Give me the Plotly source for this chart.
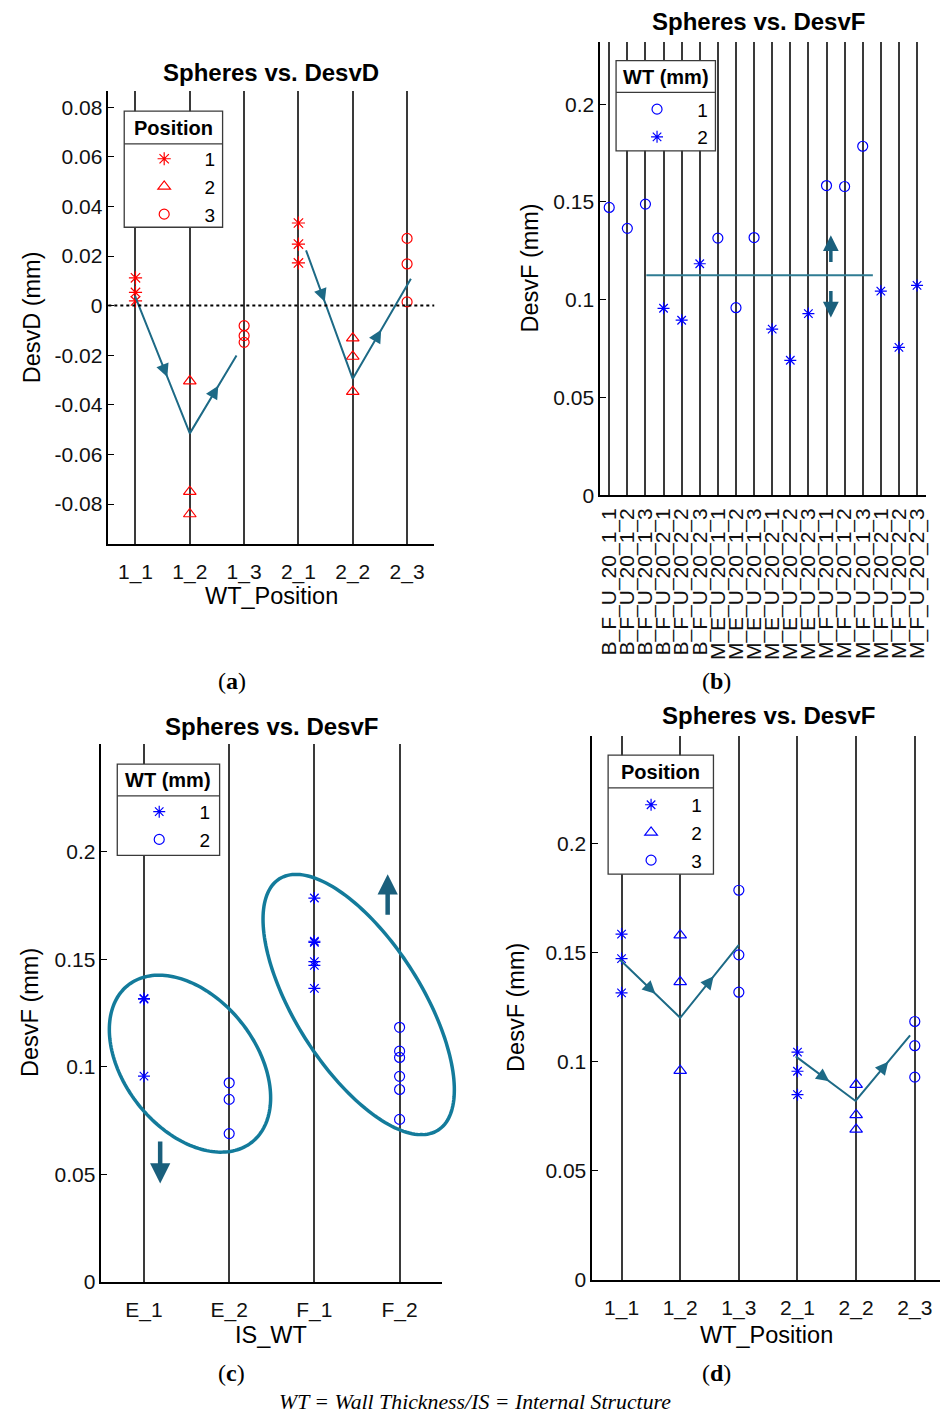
import numpy as np
import plotly.graph_objects as go

W, H = 943, 1425
FONT = "Liberation Sans, Arial, sans-serif"
SERIF = "Liberation Serif, Times New Roman, serif"
GRID = "#3a3a3a"
TREND = "#1d6a86"
ELLC = "#137b9b"
ARROWC = "#1a5f7c"

# ---------------- data ----------------
# (a) Spheres vs. DesvD
cats_a = ["1_1", "1_2", "1_3", "2_1", "2_2", "2_3"]
a_pos1_cat = ["1_1", "1_1", "1_1", "2_1", "2_1", "2_1"]
a_pos1_val = [0.0112, 0.0053, 0.0019, 0.0333, 0.0248, 0.0172]
a_pos2_cat = ["1_2", "1_2", "1_2", "2_2", "2_2", "2_2"]
a_pos2_val = [-0.0304, -0.0750, -0.0840, -0.0131, -0.0205, -0.0347]
a_pos3_cat = ["1_3", "1_3", "1_3", "2_3", "2_3", "2_3"]
a_pos3_val = [-0.0081, -0.0121, -0.0148, 0.0271, 0.0168, 0.0015]
a_trend1_x = [0.99, 2.0, 2.86]
a_trend1_y = [0.0039, -0.0515, -0.0201]
a_trend2_x = [4.14, 5.0, 6.07]
a_trend2_y = [0.0223, -0.0295, 0.0108]
a_yticks = [-0.08, -0.06, -0.04, -0.02, 0, 0.02, 0.04, 0.06, 0.08]
a_yticktext = ["-0.08", "-0.06", "-0.04", "-0.02", "0", "0.02", "0.04", "0.06", "0.08"]

# (b) Spheres vs. DesvF by specimen
cats_b = ["B_F_U_20_1_1", "B_F_U_20_1_2", "B_F_U_20_1_3",
          "B_F_U_20_2_1", "B_F_U_20_2_2", "B_F_U_20_2_3",
          "M_E_U_20_1_1", "M_E_U_20_1_2", "M_E_U_20_1_3",
          "M_E_U_20_2_1", "M_E_U_20_2_2", "M_E_U_20_2_3",
          "M_F_U_20_1_1", "M_F_U_20_1_2", "M_F_U_20_1_3",
          "M_F_U_20_2_1", "M_F_U_20_2_2", "M_F_U_20_2_3"]
b_wt = [1, 1, 1, 2, 2, 2, 1, 1, 1, 2, 2, 2, 1, 1, 1, 2, 2, 2]
b_val = [0.1472, 0.1365, 0.1489, 0.0956, 0.0895, 0.1184,
         0.1315, 0.0959, 0.1318, 0.0849, 0.0690, 0.0929,
         0.1584, 0.1579, 0.1785, 0.1044, 0.0756, 0.1073]
b_hline_x = [3.05, 15.56]
b_hline_y = 0.1125
b_arrow_x = 13.24
b_arrow_up = [0.1185, 0.1330]
b_arrow_down = [0.1052, 0.0909]
bcd_yticks = [0, 0.05, 0.1, 0.15, 0.2]
bcd_yticktext = ["0", "0.05", "0.1", "0.15", "0.2"]

# (c) Spheres vs. DesvF by IS_WT
cats_c = ["E_1", "E_2", "F_1", "F_2"]
c_wt1_cat = ["E_1", "E_1", "E_1", "F_1", "F_1", "F_1", "F_1", "F_1", "F_1"]
c_wt1_val = [0.1315, 0.0957, 0.1318, 0.1472, 0.1365, 0.1489, 0.1584, 0.1579, 0.1785]
c_wt2_cat = ["E_2", "E_2", "E_2", "F_2", "F_2", "F_2", "F_2", "F_2", "F_2"]
c_wt2_val = [0.0926, 0.0849, 0.0690, 0.0956, 0.0895, 0.1184, 0.1044, 0.0756, 0.1073]
# ellipses: centre (x, y in data), semi-axes (px), tilt (deg, clockwise on screen)
ell1_center = (1.54, 0.1015)
ell1_axes = (100.7, 66.3)
ell1_angle = 51.85
ell2_center = (3.52, 0.129)
ell2_axes = (149.7, 63.7)
ell2_angle = 57.8
c_arrow_up = (3.86, 0.170, 0.1895)
c_arrow_down = (1.19, 0.0660, 0.0458)

# (d) Spheres vs. DesvF by WT_Position
cats_d = ["1_1", "1_2", "1_3", "2_1", "2_2", "2_3"]
d_pos1_cat = ["1_1", "1_1", "1_1", "2_1", "2_1", "2_1"]
d_pos1_val = [0.1472, 0.1315, 0.1584, 0.0956, 0.0849, 0.1044]
d_pos2_cat = ["1_2", "1_2", "1_2", "2_2", "2_2", "2_2"]
d_pos2_val = [0.1365, 0.0959, 0.1579, 0.0895, 0.0690, 0.0756]
d_pos3_cat = ["1_3", "1_3", "1_3", "2_3", "2_3", "2_3"]
d_pos3_val = [0.1489, 0.1318, 0.1785, 0.1184, 0.0929, 0.1073]
d_trend1_x = [0.97, 2.0, 3.0]
d_trend1_y = [0.1468, 0.1201, 0.1535]
d_trend2_x = [3.97, 4.99, 5.92]
d_trend2_y = [0.1024, 0.0820, 0.1120]

# ---------------- layout geometry (pixels) ----------------
dom = {
    "a": dict(x=(106, 434), y=(92, 548), xr=(0.5, 6.5), yr=(-0.096, 0.0864)),
    "b": dict(x=(601, 929), y=(42, 499), xr=(0.5, 18.5), yr=(0, 0.232)),
    "c": dict(x=(99, 442), y=(750, 1292), xr=(0.5, 4.5), yr=(0, 0.25)),
    "d": dict(x=(593, 943), y=(742, 1290), xr=(0.5, 6.43), yr=(0, 0.249)),
}


def pxx(p):
    return p / W


def pxy(p):
    return 1 - p / H


def idx(cats, labels):
    return [cats.index(l) + 1 for l in labels]


fig = go.Figure()

RED = "#ff0000"
BLUE = "#0000ff"


def mk(symbol, color, size=10):
    return dict(symbol=symbol, size=size, color=color, line=dict(color=color, width=1.2))


NB = "\u00a0"

# (a)
fig.add_trace(go.Scatter(x=idx(cats_a, a_pos1_cat), y=a_pos1_val, mode="markers", name=NB + "1",
                         marker=mk("asterisk-open", RED, 11), xaxis="x", yaxis="y", legend="legend"))
fig.add_trace(go.Scatter(x=idx(cats_a, a_pos2_cat), y=a_pos2_val, mode="markers", name=NB + "2",
                         marker=mk("triangle-up-open", RED, 11), xaxis="x", yaxis="y", legend="legend"))
fig.add_trace(go.Scatter(x=idx(cats_a, a_pos3_cat), y=a_pos3_val, mode="markers", name=NB + "3",
                         marker=mk("circle-open", RED, 10), xaxis="x", yaxis="y", legend="legend"))
for tx, ty in [(a_trend1_x, a_trend1_y), (a_trend2_x, a_trend2_y)]:
    fig.add_trace(go.Scatter(x=tx, y=ty, mode="lines", line=dict(color=TREND, width=2),
                             showlegend=False, xaxis="x", yaxis="y", hoverinfo="skip"))

# (b)
b_x = list(range(1, len(cats_b) + 1))
fig.add_trace(go.Scatter(x=[x for x, w in zip(b_x, b_wt) if w == 1],
                         y=[v for v, w in zip(b_val, b_wt) if w == 1],
                         mode="markers", name=NB + "1", marker=mk("circle-open", BLUE, 10),
                         xaxis="x2", yaxis="y2", legend="legend2"))
fig.add_trace(go.Scatter(x=[x for x, w in zip(b_x, b_wt) if w == 2],
                         y=[v for v, w in zip(b_val, b_wt) if w == 2],
                         mode="markers", name=NB + "2", marker=mk("asterisk-open", BLUE, 10),
                         xaxis="x2", yaxis="y2", legend="legend2"))
fig.add_trace(go.Scatter(x=b_hline_x, y=[b_hline_y, b_hline_y], mode="lines",
                         line=dict(color="#2f7c93", width=2), showlegend=False,
                         xaxis="x2", yaxis="y2", hoverinfo="skip"))

# (c)
fig.add_trace(go.Scatter(x=idx(cats_c, c_wt1_cat), y=c_wt1_val, mode="markers", name=NB + "1",
                         marker=mk("asterisk-open", BLUE, 10), xaxis="x3", yaxis="y3", legend="legend3"))
fig.add_trace(go.Scatter(x=idx(cats_c, c_wt2_cat), y=c_wt2_val, mode="markers", name=NB + "2",
                         marker=mk("circle-open", BLUE, 10), xaxis="x3", yaxis="y3", legend="legend3"))

# (d)
fig.add_trace(go.Scatter(x=idx(cats_d, d_pos1_cat), y=d_pos1_val, mode="markers", name=NB + "1",
                         marker=mk("asterisk-open", BLUE, 10), xaxis="x4", yaxis="y4", legend="legend4"))
fig.add_trace(go.Scatter(x=idx(cats_d, d_pos2_cat), y=d_pos2_val, mode="markers", name=NB + "2",
                         marker=mk("triangle-up-open", BLUE, 11), xaxis="x4", yaxis="y4", legend="legend4"))
fig.add_trace(go.Scatter(x=idx(cats_d, d_pos3_cat), y=d_pos3_val, mode="markers", name=NB + "3",
                         marker=mk("circle-open", BLUE, 10), xaxis="x4", yaxis="y4", legend="legend4"))
for tx, ty in [(d_trend1_x, d_trend1_y), (d_trend2_x, d_trend2_y)]:
    fig.add_trace(go.Scatter(x=tx, y=ty, mode="lines", line=dict(color=TREND, width=2),
                             showlegend=False, xaxis="x4", yaxis="y4", hoverinfo="skip"))

# ---------------- axes ----------------
def xaxis_cfg(key, cats, tickangle=0, fsize=21, standoff=8):
    d = dom[key]
    return dict(domain=[pxx(d["x"][0]), pxx(d["x"][1])], range=list(d["xr"]),
                tickmode="array", tickvals=list(range(1, len(cats) + 1)), ticktext=cats,
                tickangle=tickangle, showgrid=True, gridcolor=GRID, gridwidth=2,
                showline=True, linecolor="black", linewidth=1.5, ticks="",
                ticklabelstandoff=standoff,
                zeroline=False, tickfont=dict(family=FONT, size=fsize, color="#111"),
                fixedrange=True)


def yaxis_cfg(key, xname, tv, tt):
    d = dom[key]
    return dict(domain=[pxy(d["y"][1]), pxy(d["y"][0])], range=list(d["yr"]),
                anchor=xname, tickmode="array", tickvals=tv, ticktext=tt,
                showgrid=False, showline=True, linecolor="black", linewidth=1.5,
                ticks="inside", ticklen=6, tickwidth=1.3, tickcolor="black",
                zeroline=False, tickfont=dict(family=FONT, size=21, color="#111"),
                fixedrange=True)


layout = dict(
    width=W, height=H, margin=dict(l=0, r=0, t=0, b=0),
    paper_bgcolor="white", plot_bgcolor="white",
    font=dict(family=FONT, color="black"),
    xaxis=dict(xaxis_cfg("a", cats_a), anchor="y"),
    yaxis=yaxis_cfg("a", "x", a_yticks, a_yticktext),
    xaxis2=dict(xaxis_cfg("b", cats_b, tickangle=-90, fsize=21, standoff=3), anchor="y2"),
    yaxis2=yaxis_cfg("b", "x2", bcd_yticks, bcd_yticktext),
    xaxis3=dict(xaxis_cfg("c", cats_c), anchor="y3"),
    yaxis3=yaxis_cfg("c", "x3", bcd_yticks, bcd_yticktext),
    xaxis4=dict(xaxis_cfg("d", cats_d), anchor="y4"),
    yaxis4=yaxis_cfg("d", "x4", bcd_yticks, bcd_yticktext),
)

# legend boxes: left, right, top, bottom, separator, title, first-item marker (x, y) in px
leg_boxes = {
    "legend": (122, 221, 112, 229, 145, "Position", (162, 160)),
    "legend2": (617, 717, 61, 152, 93, "WT (mm)", (658, 110)),
    "legend3": (115, 218, 770, 862, 802, "WT (mm)", (157, 818)),
    "legend4": (609, 715, 761, 881, 794, "Position", (652, 811)),
}


def legend_cfg(mx, my):
    return dict(x=pxx(mx - 35), y=pxy(my - 19), xanchor="left", yanchor="top",
                bgcolor="rgba(0,0,0,0)", borderwidth=0,
                font=dict(family=FONT, size=19, color="black"),
                itemwidth=60, tracegroupgap=0, traceorder="normal")


for k, (l, r, tp, bt, sep, title, (mx, my)) in leg_boxes.items():
    layout[k] = legend_cfg(mx, my)
fig.update_layout(**layout)

# ---------------- annotations ----------------
ann = []


def txt(x, y, s, size=20, bold=False, angle=0, family=FONT):
    ann.append(dict(x=pxx(x), y=pxy(y), xref="paper", yref="paper", text=("<b>" + s + "</b>") if bold else s,
                    showarrow=False, textangle=angle, xanchor="center", yanchor="middle",
                    font=dict(family=family, size=size, color="black")))


txt(270, 73, "Spheres vs. DesvD", 24, True)
txt(760, 22, "Spheres vs. DesvF", 24, True)
txt(270, 732, "Spheres vs. DesvF", 24, True)
txt(770, 721, "Spheres vs. DesvF", 24, True)
txt(270, 601, "WT_Position", 23.5)
txt(29, 320, "DesvD (mm)", 23.5, angle=-90)
txt(530, 270, "DesvF (mm)", 23.5, angle=-90)
txt(270, 1345, "IS_WT", 23.5)
txt(27, 1020, "DesvF (mm)", 23.5, angle=-90)
txt(768, 1345, "WT_Position", 23.5)
txt(516, 1015, "DesvF (mm)", 23.5, angle=-90)
txt(230, 686, "(<b>a</b>)", 24, family=SERIF)
txt(718, 686, "(<b>b</b>)", 24, family=SERIF)
txt(230, 1384, "(<b>c</b>)", 24, family=SERIF)
txt(718, 1384, "(<b>d</b>)", 24, family=SERIF)
txt(475, 1413, "<i>WT = Wall Thickness/IS = Internal Structure</i>", 21.8, family=SERIF)
for k, (l, r, tp, bt, sep, title, _) in leg_boxes.items():
    txt((l + r) / 2, (tp + sep) / 2 + 0.5, title, 20, True)


def arrow(xa, ya, x0, y0, x1, y1, color, width, size=1.0, head=2):
    ann.append(dict(x=x1, y=y1, ax=x0, ay=y0, xref=xa, yref=ya, axref=xa, ayref=ya,
                    text="", showarrow=True, arrowhead=head, arrowsize=size,
                    arrowwidth=width, arrowcolor=color, standoff=0, startstandoff=0))


def seg_arrows(xa, ya, xs, ys, fracs):
    for i, f in enumerate(fracs):
        x0, y0, x1, y1 = xs[i], ys[i], xs[i + 1], ys[i + 1]
        arrow(xa, ya, x0 + (x1 - x0) * (f - 0.06), y0 + (y1 - y0) * (f - 0.06),
              x0 + (x1 - x0) * (f + 0.04), y0 + (y1 - y0) * (f + 0.04), TREND, 2, 1.3)


seg_arrows("x", "y", a_trend1_x, a_trend1_y, [0.55, 0.57])
seg_arrows("x", "y", a_trend2_x, a_trend2_y, [0.36, 0.45])
seg_arrows("x4", "y4", d_trend1_x, d_trend1_y, [0.55, 0.53])
seg_arrows("x4", "y4", d_trend2_x, d_trend2_y, [0.52, 0.56])

arrow("x2", "y2", b_arrow_x, b_arrow_up[0], b_arrow_x, b_arrow_up[1], ARROWC, 3.5, 0.9)
arrow("x2", "y2", b_arrow_x, b_arrow_down[0], b_arrow_x, b_arrow_down[1], ARROWC, 3.5, 0.9)
arrow("x3", "y3", c_arrow_up[0], c_arrow_up[1], c_arrow_up[0], c_arrow_up[2], ARROWC, 4.5, 0.9)
arrow("x3", "y3", c_arrow_down[0], c_arrow_down[1], c_arrow_down[0], c_arrow_down[2], ARROWC, 4.5, 0.9)

fig.update_layout(annotations=ann)

# ---------------- shapes ----------------
shapes = []
# dotted zero line in (a)
shapes.append(dict(type="line", xref="x domain", yref="y", x0=0, x1=1, y0=0, y1=0,
                   line=dict(color="black", width=2, dash="dot")))

# ellipses in (c), drawn in paper space so they may overflow the axes
cdom = dom["c"]
c_pxcat = (cdom["x"][1] - cdom["x"][0]) / (cdom["xr"][1] - cdom["xr"][0])
c_pxunit = (cdom["y"][1] - cdom["y"][0]) / (cdom["yr"][1] - cdom["yr"][0])
t = np.linspace(0, 2 * np.pi, 181)
for (cx, cy), (ea, eb), ang in [(ell1_center, ell1_axes, ell1_angle), (ell2_center, ell2_axes, ell2_angle)]:
    th = np.radians(ang)
    cpx = cdom["x"][0] + (cx - cdom["xr"][0]) * c_pxcat
    cpy = cdom["y"][1] - (cy - cdom["yr"][0]) * c_pxunit
    X = cpx + ea * np.cos(t) * np.cos(th) - eb * np.sin(t) * np.sin(th)
    Y = cpy + ea * np.cos(t) * np.sin(th) + eb * np.sin(t) * np.cos(th)
    path = "M " + " L ".join(f"{pxx(a):.5f},{pxy(b):.5f}" for a, b in zip(X, Y)) + " Z"
    shapes.append(dict(type="path", xref="paper", yref="paper", path=path, layer="above",
                       line=dict(color=ELLC, width=3.5)))

# legend boxes with title separators
for k, (l, r, tp, bt, sep, title, _) in leg_boxes.items():
    shapes.append(dict(type="rect", xref="paper", yref="paper", layer="above",
                       x0=pxx(l), x1=pxx(r), y0=pxy(bt), y1=pxy(tp),
                       fillcolor="white", line=dict(color="#3a3a3a", width=1.3)))
    shapes.append(dict(type="line", xref="paper", yref="paper", layer="above",
                       x0=pxx(l), x1=pxx(r), y0=pxy(sep), y1=pxy(sep),
                       line=dict(color="#3a3a3a", width=1.3)))
fig.update_layout(shapes=shapes)

reset_js = (
    "var s=document.createElement('style');"
    "s.textContent='html,body{margin:0!important;padding:0!important;overflow:hidden;"
    "width:943px;height:1425px;}';"
    "document.head.appendChild(s);"
)
fig.write_html("out.html", config={"displayModeBar": False}, post_script=reset_js)
